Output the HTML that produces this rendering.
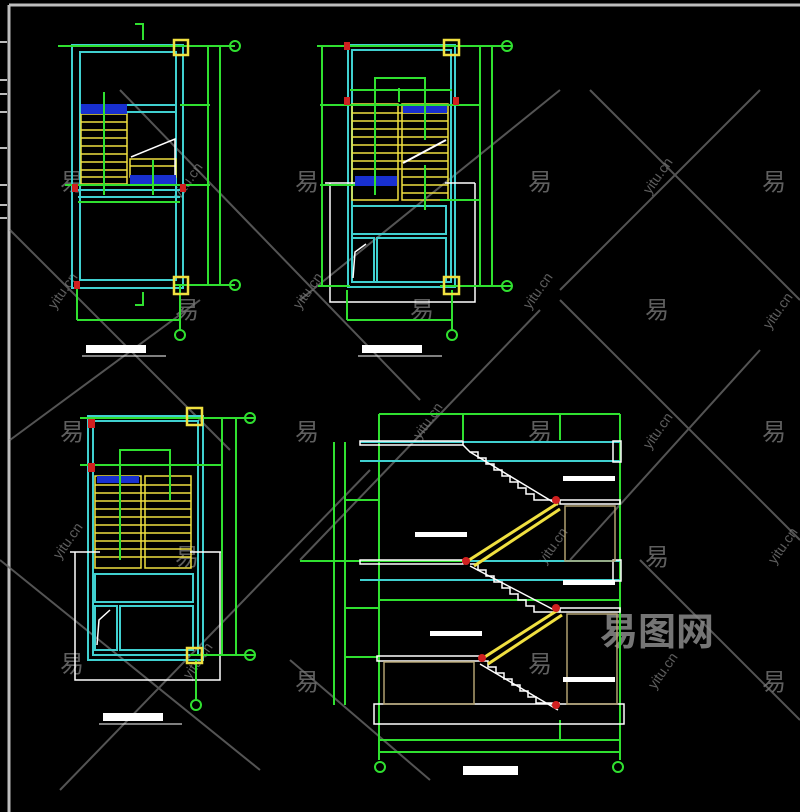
<!DOCTYPE html>
<html><head><meta charset="utf-8"><style>
html,body{margin:0;padding:0;background:#000;width:800px;height:812px;overflow:hidden}
svg{display:block}
text{font-family:"Liberation Sans","Noto Sans CJK SC",sans-serif}
</style></head><body>
<svg width="800" height="812" viewBox="0 0 800 812" xmlns="http://www.w3.org/2000/svg">
<rect width="800" height="812" fill="#000"/>
<!-- frame -->
<line x1="9" y1="5" x2="800" y2="5" stroke="#bdbdbd" stroke-width="3"/>
<line x1="9" y1="5" x2="9" y2="812" stroke="#bdbdbd" stroke-width="3"/>
<g stroke="#bdbdbd" stroke-width="2"><line x1="0" y1="42" x2="7" y2="42"/><line x1="0" y1="80" x2="7" y2="80"/><line x1="0" y1="94" x2="7" y2="94"/><line x1="0" y1="112" x2="7" y2="112"/><line x1="0" y1="148" x2="7" y2="148"/><line x1="0" y1="185" x2="7" y2="185"/><line x1="0" y1="205" x2="7" y2="205"/><line x1="0" y1="218" x2="7" y2="218"/></g>
<!-- watermark diagonals -->
<g stroke="#6a6a6a" stroke-width="2" opacity="0.8">
<line x1="10" y1="230" x2="230" y2="450"/><line x1="120" y1="90" x2="420" y2="400"/>
<line x1="10" y1="440" x2="200" y2="300"/><line x1="590" y1="90" x2="800" y2="300"/>
<line x1="760" y1="90" x2="560" y2="290"/><line x1="300" y1="300" x2="560" y2="90"/>
<line x1="560" y1="300" x2="800" y2="540"/><line x1="540" y1="310" x2="300" y2="560"/>
<line x1="0" y1="560" x2="260" y2="770"/><line x1="60" y1="790" x2="370" y2="470"/>
<line x1="640" y1="560" x2="800" y2="720"/><line x1="760" y1="350" x2="570" y2="560"/>
<line x1="290" y1="660" x2="430" y2="780"/>
</g>
<g fill="#777" font-size="24" opacity="0.8">
<text x="60" y="190">易</text><text x="295" y="190">易</text><text x="528" y="190">易</text><text x="762" y="190">易</text>
<text x="175" y="318">易</text><text x="410" y="318">易</text><text x="645" y="318">易</text>
<text x="60" y="440">易</text><text x="295" y="440">易</text><text x="528" y="440">易</text><text x="762" y="440">易</text>
<text x="175" y="565">易</text><text x="645" y="565">易</text>
<text x="60" y="672">易</text><text x="295" y="690">易</text><text x="528" y="672">易</text><text x="762" y="690">易</text>
</g>
<g fill="#777" font-size="14" opacity="0.8">
<text transform="translate(180,200) rotate(-55)">yitu.cn</text><text transform="translate(55,310) rotate(-55)">yitu.cn</text>
<text transform="translate(300,310) rotate(-55)">yitu.cn</text><text transform="translate(650,195) rotate(-55)">yitu.cn</text>
<text transform="translate(530,310) rotate(-55)">yitu.cn</text><text transform="translate(770,330) rotate(-55)">yitu.cn</text>
<text transform="translate(420,440) rotate(-55)">yitu.cn</text><text transform="translate(650,450) rotate(-55)">yitu.cn</text>
<text transform="translate(60,560) rotate(-55)">yitu.cn</text><text transform="translate(545,565) rotate(-55)">yitu.cn</text>
<text transform="translate(775,565) rotate(-55)">yitu.cn</text><text transform="translate(190,680) rotate(-55)">yitu.cn</text>
<text transform="translate(655,690) rotate(-55)">yitu.cn</text>
</g>
<text x="600" y="645" fill="#8a8a8a" font-size="38" font-weight="bold" opacity="0.85">易图网</text>

<!-- PLAN 1 -->
<g fill="none">
<g stroke="#40d0d0" stroke-width="2">
<rect x="72" y="45" width="111" height="243"/><rect x="80" y="52" width="96" height="228"/>
<line x1="127" y1="105" x2="176" y2="105"/><line x1="127" y1="112" x2="176" y2="112"/>
<line x1="78" y1="190" x2="180" y2="190"/><line x1="78" y1="197" x2="180" y2="197"/>
</g>
<g stroke="#f0e040" stroke-width="1.5">
<rect x="81" y="114" width="46" height="70"/>
<line x1="81" y1="122" x2="127" y2="122"/><line x1="81" y1="130" x2="127" y2="130"/><line x1="81" y1="138" x2="127" y2="138"/><line x1="81" y1="146" x2="127" y2="146"/><line x1="81" y1="154" x2="127" y2="154"/><line x1="81" y1="162" x2="127" y2="162"/><line x1="81" y1="170" x2="127" y2="170"/><line x1="81" y1="177" x2="127" y2="177"/>
<rect x="130" y="159" width="46" height="18"/><line x1="130" y1="166" x2="176" y2="166"/>
</g>
<rect x="81" y="104" width="46" height="10" fill="#1830d0"/><rect x="130" y="175" width="46" height="10" fill="#1830d0"/>
<polyline points="131,157 175,139 175,175" stroke="#fff" stroke-width="1.5"/>
<g stroke="#30e030" stroke-width="2">
<line x1="58" y1="46" x2="235" y2="46"/><line x1="175" y1="285" x2="235" y2="285"/>
<line x1="208" y1="46" x2="208" y2="285"/><line x1="220" y1="46" x2="220" y2="285"/>
<line x1="180" y1="105" x2="210" y2="105"/><line x1="65" y1="185" x2="210" y2="185"/>
<line x1="77" y1="320" x2="180" y2="320"/><line x1="77" y1="285" x2="77" y2="320"/><line x1="180" y1="285" x2="180" y2="330"/>
<line x1="104" y1="92" x2="104" y2="195"/><line x1="153" y1="160" x2="153" y2="195"/>
<line x1="78" y1="202" x2="180" y2="202"/>
<polyline points="135,24 143,24 143,40"/><polyline points="135,305 143,305 143,292"/>
<circle cx="235" cy="46" r="5"/><circle cx="235" cy="285" r="5"/><circle cx="180" cy="335" r="5"/>
</g>
<rect x="174" y="40" width="14" height="15" stroke="#f0e040" stroke-width="2.5"/>
<rect x="174" y="277" width="14" height="17" stroke="#f0e040" stroke-width="2.5"/>
</g>
<rect x="72" y="184" width="6" height="8" fill="#d02020"/><rect x="180" y="184" width="6" height="8" fill="#d02020"/><rect x="74" y="281" width="6" height="8" fill="#d02020"/>
<rect x="86" y="345" width="60" height="8" fill="#fff"/><line x1="82" y1="356" x2="166" y2="356" stroke="#fff"/>

<!-- PLAN 2 -->
<g fill="none">
<g stroke="#40d0d0" stroke-width="2">
<rect x="348" y="45" width="107" height="242"/><rect x="352" y="50" width="99" height="232"/>
<rect x="352" y="206" width="94" height="28"/><rect x="352" y="238" width="22" height="44"/><rect x="377" y="238" width="69" height="44"/>
</g>
<g stroke="#f0e040" stroke-width="1.5">
<rect x="352" y="104" width="46" height="96"/><rect x="402" y="104" width="46" height="96"/>
<line x1="352" y1="113" x2="448" y2="113"/><line x1="352" y1="121" x2="448" y2="121"/><line x1="352" y1="129" x2="448" y2="129"/><line x1="352" y1="137" x2="448" y2="137"/><line x1="352" y1="145" x2="448" y2="145"/><line x1="352" y1="153" x2="448" y2="153"/><line x1="352" y1="161" x2="448" y2="161"/><line x1="352" y1="169" x2="448" y2="169"/><line x1="402" y1="177" x2="448" y2="177"/><line x1="402" y1="185" x2="448" y2="185"/><line x1="402" y1="193" x2="448" y2="193"/>
</g>
<rect x="403" y="106" width="44" height="7" fill="#1830d0"/><rect x="355" y="176" width="42" height="10" fill="#1830d0"/>
<polyline points="403,163 446,140" stroke="#fff" stroke-width="2"/>
<g stroke="#fff" stroke-width="1.5"><polyline points="330,183 330,302 475,302 475,183"/><line x1="325" y1="183" x2="355" y2="183"/><line x1="445" y1="183" x2="475" y2="183"/><polyline points="353,278 355,252 366,244"/></g>
<g stroke="#30e030" stroke-width="2">
<line x1="317" y1="46" x2="512" y2="46"/><line x1="440" y1="286" x2="512" y2="286"/><line x1="318" y1="286" x2="350" y2="286"/>
<line x1="322" y1="46" x2="322" y2="286"/><line x1="480" y1="46" x2="480" y2="286"/><line x1="492" y1="46" x2="492" y2="286"/>
<line x1="320" y1="105" x2="480" y2="105"/><line x1="320" y1="185" x2="355" y2="185"/><line x1="440" y1="200" x2="480" y2="200"/>
<line x1="347" y1="320" x2="452" y2="320"/><line x1="347" y1="290" x2="347" y2="320"/><line x1="452" y1="290" x2="452" y2="330"/>
<polyline points="375,195 375,78 425,78 425,140"/><line x1="425" y1="165" x2="425" y2="210"/>
<line x1="350" y1="90" x2="452" y2="90"/><line x1="399" y1="88" x2="399" y2="102"/>
<circle cx="507" cy="46" r="5"/><circle cx="507" cy="286" r="5"/><circle cx="452" cy="335" r="5"/>
</g>
<rect x="444" y="40" width="15" height="15" stroke="#f0e040" stroke-width="2.5"/>
<rect x="444" y="277" width="15" height="17" stroke="#f0e040" stroke-width="2.5"/>
</g>
<rect x="344" y="42" width="6" height="8" fill="#d02020"/><rect x="344" y="97" width="6" height="8" fill="#d02020"/><rect x="453" y="97" width="6" height="8" fill="#d02020"/>
<rect x="362" y="345" width="60" height="8" fill="#fff"/><line x1="358" y1="356" x2="442" y2="356" stroke="#fff"/>

<!-- PLAN 3 -->
<g fill="none">
<g stroke="#40d0d0" stroke-width="2">
<rect x="88" y="416" width="115" height="244"/><rect x="93" y="421" width="105" height="234"/>
<rect x="95" y="574" width="98" height="28"/><rect x="95" y="606" width="22" height="44"/><rect x="120" y="606" width="73" height="44"/>
</g>
<g stroke="#f0e040" stroke-width="1.5">
<rect x="95" y="476" width="46" height="92"/><rect x="145" y="476" width="46" height="92"/>
<line x1="95" y1="485" x2="191" y2="485"/><line x1="95" y1="493" x2="191" y2="493"/><line x1="95" y1="501" x2="191" y2="501"/><line x1="95" y1="509" x2="191" y2="509"/><line x1="95" y1="517" x2="191" y2="517"/><line x1="95" y1="525" x2="191" y2="525"/><line x1="95" y1="533" x2="191" y2="533"/><line x1="95" y1="541" x2="191" y2="541"/><line x1="95" y1="549" x2="191" y2="549"/><line x1="95" y1="557" x2="191" y2="557"/>
</g>
<rect x="97" y="476" width="42" height="7" fill="#1830d0"/>
<g stroke="#fff" stroke-width="1.5"><polyline points="75,552 75,680 220,680 220,552"/><line x1="70" y1="552" x2="100" y2="552"/><line x1="190" y1="552" x2="222" y2="552"/><polyline points="97,645 99,620 110,610"/></g>
<g stroke="#30e030" stroke-width="2">
<line x1="80" y1="418" x2="255" y2="418"/><line x1="190" y1="655" x2="255" y2="655"/>
<line x1="222" y1="418" x2="222" y2="655"/><line x1="236" y1="418" x2="236" y2="655"/>
<line x1="80" y1="465" x2="222" y2="465"/>
<polyline points="120,560 120,450 170,450 170,500"/>
<circle cx="250" cy="418" r="5"/><circle cx="250" cy="655" r="5"/><circle cx="196" cy="705" r="5"/>
<line x1="196" y1="660" x2="196" y2="700"/>
</g>
<rect x="187" y="408" width="15" height="17" stroke="#f0e040" stroke-width="2.5"/>
<rect x="187" y="648" width="15" height="15" stroke="#f0e040" stroke-width="2.5"/>
</g>
<rect x="88" y="419" width="7" height="9" fill="#d02020"/><rect x="88" y="463" width="7" height="9" fill="#d02020"/>
<rect x="103" y="713" width="60" height="8" fill="#fff"/><line x1="99" y1="724" x2="182" y2="724" stroke="#fff"/>

<!-- SECTION -->
<g fill="none">
<g stroke="#30e030" stroke-width="2">
<line x1="379" y1="414" x2="620" y2="414"/><line x1="379" y1="414" x2="379" y2="760"/><line x1="620" y1="414" x2="620" y2="760"/>
<line x1="463" y1="414" x2="463" y2="440"/><line x1="560" y1="414" x2="560" y2="440"/>
<line x1="334" y1="442" x2="334" y2="705"/><line x1="345" y1="442" x2="345" y2="705"/>
<line x1="345" y1="500" x2="378" y2="500"/><line x1="345" y1="608" x2="378" y2="608"/><line x1="345" y1="657" x2="378" y2="657"/>
<line x1="300" y1="561" x2="620" y2="561"/><line x1="379" y1="600" x2="620" y2="600"/>
<line x1="379" y1="740" x2="620" y2="740"/><line x1="379" y1="752" x2="620" y2="752"/>
<line x1="560" y1="720" x2="560" y2="740"/>
<circle cx="380" cy="767" r="5"/><circle cx="618" cy="767" r="5"/>
</g>
<g stroke="#40d0d0" stroke-width="2">
<line x1="360" y1="442" x2="620" y2="442"/><line x1="360" y1="461" x2="620" y2="461"/>
<line x1="470" y1="561" x2="620" y2="561"/><line x1="360" y1="580" x2="620" y2="580"/>
</g>
<g stroke="#fff" stroke-width="1.5">
<rect x="360" y="441" width="103" height="4"/><rect x="613" y="441" width="8" height="21"/>
<rect x="360" y="560" width="103" height="4"/><rect x="613" y="560" width="8" height="21"/>
<rect x="377" y="656" width="103" height="5"/><rect x="374" y="704" width="250" height="20"/>
<rect x="560" y="500" width="60" height="4"/><rect x="560" y="608" width="60" height="4"/>
<polyline points="463,445 470,452 478,452 478,458 486,458 486,464 494,464 494,470 502,470 502,476 510,476 510,482 518,482 518,488 526,488 526,494 534,494 534,500 560,500"/>
<line x1="470" y1="452" x2="558" y2="505"/>
<polyline points="470,564 478,564 478,570 486,570 486,576 494,576 494,582 502,582 502,588 510,588 510,594 518,594 518,600 526,600 526,606 534,606 534,612 560,612"/>
<line x1="470" y1="566" x2="558" y2="612"/>
<polyline points="480,661 488,661 488,667 496,667 496,673 504,673 504,679 512,679 512,685 520,685 520,691 528,691 528,697 536,697 536,703 560,703"/>
<line x1="480" y1="664" x2="558" y2="710"/>
</g>
<g stroke="#f0e040" stroke-width="3">
<line x1="466" y1="562" x2="558" y2="503"/><line x1="474" y1="566" x2="560" y2="509"/>
<line x1="480" y1="660" x2="558" y2="610"/><line x1="488" y1="664" x2="562" y2="615"/>
</g>
<g stroke="#b0a070" stroke-width="1.5">
<rect x="565" y="506" width="50" height="55"/><rect x="567" y="614" width="50" height="90"/>
<rect x="384" y="662" width="90" height="42"/>
</g>
</g>
<g fill="#d02020"><circle cx="556" cy="500" r="4"/><circle cx="466" cy="561" r="4"/><circle cx="556" cy="608" r="4"/><circle cx="482" cy="658" r="4"/><circle cx="556" cy="705" r="4"/></g>
<g fill="#fff">
<rect x="563" y="476" width="52" height="5"/><rect x="415" y="532" width="52" height="5"/><rect x="563" y="580" width="52" height="5"/><rect x="430" y="631" width="52" height="5"/><rect x="563" y="677" width="52" height="5"/>
<rect x="463" y="766" width="55" height="9"/>
</g>
</svg>
</body></html>
